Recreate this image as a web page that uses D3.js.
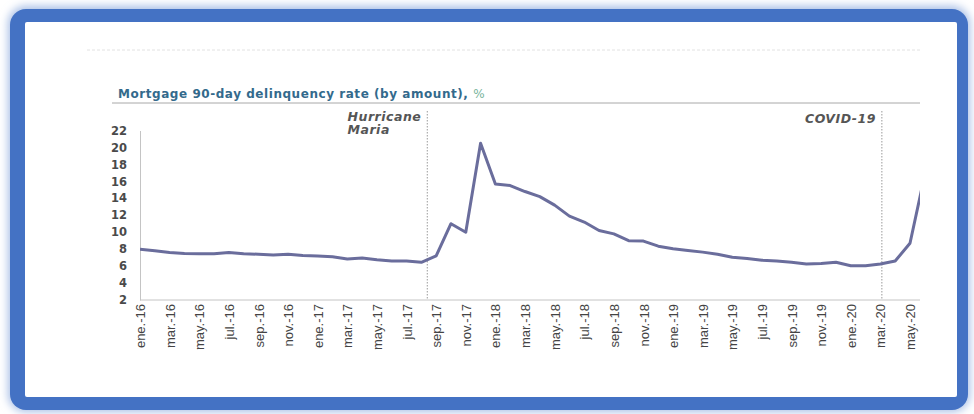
<!DOCTYPE html>
<html>
<head>
<meta charset="utf-8">
<script src="https://cdn.jsdelivr.net/npm/d3@7"></script>
<style>
  body { margin: 0; background: #fff; }
  svg { display: block; }
</style>
</head>
<body>
<svg id="chart"></svg>
<script>
// months of the series, ene.-16 .. jun.-20
const months = [
  'ene.-16','feb.-16','mar.-16','abr.-16','may.-16','jun.-16','jul.-16','ago.-16','sep.-16','oct.-16','nov.-16','dic.-16',
  'ene.-17','feb.-17','mar.-17','abr.-17','may.-17','jun.-17','jul.-17','ago.-17','sep.-17','oct.-17','nov.-17','dic.-17',
  'ene.-18','feb.-18','mar.-18','abr.-18','may.-18','jun.-18','jul.-18','ago.-18','sep.-18','oct.-18','nov.-18','dic.-18',
  'ene.-19','feb.-19','mar.-19','abr.-19','may.-19','jun.-19','jul.-19','ago.-19','sep.-19','oct.-19','nov.-19','dic.-19',
  'ene.-20','feb.-20','mar.-20','abr.-20','may.-20','jun.-20'
];

// 90-day delinquency rate, %
const delinquency = [
  8.0, 7.8, 7.6, 7.5, 7.45, 7.45, 7.6, 7.45, 7.4, 7.3, 7.4, 7.25,
  7.2, 7.1, 6.85, 6.95, 6.75, 6.6, 6.6, 6.45, 7.2, 11.0, 10.0, 20.5,
  15.7, 15.5, 14.8, 14.2, 13.2, 11.9, 11.2, 10.2, 9.8, 9.0, 8.95, 8.35,
  8.05, 7.85, 7.65, 7.4, 7.05, 6.9, 6.7, 6.6, 6.45, 6.25, 6.3, 6.45,
  6.05, 6.05, 6.25, 6.6, 8.7, 16.8
];

const xTickLabels = [
  'ene.-16','mar.-16','may.-16','jul.-16','sep.-16','nov.-16',
  'ene.-17','mar.-17','may.-17','jul.-17','sep.-17','nov.-17',
  'ene.-18','mar.-18','may.-18','jul.-18','sep.-18','nov.-18',
  'ene.-19','mar.-19','may.-19','jul.-19','sep.-19','nov.-19',
  'ene.-20','mar.-20','may.-20'
];

const yTicks = [2, 4, 6, 8, 10, 12, 14, 16, 18, 20, 22];

// event markers, position in months since ene.-16
const eventNames = [['Hurricane', 'Maria'], ['COVID-19']];
const eventAt = [19.4, 50.1];

const titleText = 'Mortgage 90-day delinquency rate (by amount), ';
const titleUnit = '%';

const W = 974, H = 414;
const plot = { left: 140, right: 920, top: 130.5, bottom: 300 };

const svg = d3.select('#chart').attr('width', W).attr('height', H);

// ---- frame (blue rounded border of the scan)
const defs = svg.append('defs');
defs.append('filter').attr('id', 'blur')
    .attr('x', '-5%').attr('y', '-10%').attr('width', '110%').attr('height', '120%')
  .append('feGaussianBlur').attr('stdDeviation', 4);

svg.append('rect')
    .attr('x', 8).attr('y', 6).attr('width', 962).attr('height', 406).attr('rx', 18)
    .attr('fill', '#a9bfe6').attr('filter', 'url(#blur)');
svg.append('rect')
    .attr('x', 10).attr('y', 9).attr('width', 958).attr('height', 401).attr('rx', 16)
    .attr('fill', '#4472c4');
svg.append('rect')
    .attr('x', 25).attr('y', 22).attr('width', 932).attr('height', 375).attr('rx', 2)
    .attr('fill', '#ffffff');

// faint rule left over at the top of the page
svg.append('line')
    .attr('x1', 87).attr('x2', plot.right).attr('y1', 50).attr('y2', 50)
    .attr('stroke', '#e2e2e2').attr('stroke-dasharray', '3,2');

// ---- title
const title = svg.append('text')
    .attr('x', 118).attr('y', 98)
    .attr('font-family', 'DejaVu Sans, sans-serif')
    .attr('font-weight', 'bold')
    .attr('font-size', 12)
    .attr('letter-spacing', 0.55)
    .attr('fill', '#336a8c');
title.append('tspan').text(titleText);
title.append('tspan').text(titleUnit).attr('fill', '#78b39b').attr('font-weight', 'normal');

svg.append('line')
    .attr('x1', 112).attr('x2', plot.right).attr('y1', 103).attr('y2', 103)
    .attr('stroke', '#a8a8a8').attr('stroke-width', 1);

// ---- scales
const x = d3.scaleLinear()
    .domain([0, 52])
    .range([plot.left, 910]);

const y = d3.scaleLinear()
    .domain([2, 22])
    .range([plot.bottom, plot.top]);

// ---- axes
const yAxis = d3.axisLeft(y).tickValues(yTicks).tickSize(0).tickPadding(13);
const yAxisGroup = svg.append('g')
    .attr('class', 'axis y-axis')
    .attr('transform', `translate(${plot.left},0)`)
    .call(yAxis);
yAxisGroup.select('.domain').attr('stroke', '#c4c4c4');
yAxisGroup.selectAll('text')
    .attr('font-family', 'DejaVu Sans, sans-serif')
    .attr('font-weight', 'bold')
    .attr('font-size', 11.5)
    .attr('fill', '#4a4a4a');

const xAxis = d3.axisBottom(x)
    .tickValues(xTickLabels.map(l => months.indexOf(l)))
    .tickFormat(i => months[i])
    .tickSize(0);
const xAxisGroup = svg.append('g')
    .attr('class', 'axis x-axis')
    .attr('transform', `translate(0,${plot.bottom})`)
    .call(xAxis);
xAxisGroup.select('.domain').remove();
xAxisGroup.selectAll('text')
    .attr('transform', 'rotate(-90)')
    .attr('x', -4).attr('y', 0).attr('dy', '0.35em')
    .attr('text-anchor', 'end')
    .attr('font-family', 'Liberation Sans, Arial, sans-serif')
    .attr('font-size', 13)
    .attr('fill', '#444');

svg.append('line')
    .attr('x1', plot.left).attr('x2', plot.right)
    .attr('y1', plot.bottom).attr('y2', plot.bottom)
    .attr('stroke', '#c4c4c4');

// ---- event markers
eventAt.forEach((at, k) => {
  const ex = x(at);
  svg.append('line')
      .attr('x1', ex).attr('x2', ex)
      .attr('y1', 111).attr('y2', plot.bottom)
      .attr('stroke', '#9a9a9a').attr('stroke-width', 1)
      .attr('stroke-dasharray', '1.5,1.5');

  const lines = eventNames[k];
  const label = svg.append('text')
      .attr('font-family', 'DejaVu Sans, sans-serif')
      .attr('font-style', 'italic')
      .attr('font-weight', 'bold')
      .attr('font-size', 12.5)
      .attr('letter-spacing', 0.5)
      .attr('fill', '#555');
  // first line is right-aligned against the marker, others share its left edge
  const first = label.append('tspan').text(lines[0]);
  const w = first.node().getComputedTextLength();
  lines.forEach((t, j) => {
    const ts = j === 0 ? first : label.append('tspan').text(t);
    ts.attr('x', ex - 6 - w).attr('y', (lines.length > 1 ? 120.5 : 123) + j * 13.5);
  });
});

// ---- series line
defs.append('clipPath').attr('id', 'plot-clip')
  .append('rect')
    .attr('x', plot.left).attr('y', 0)
    .attr('width', plot.right - plot.left).attr('height', H);

const line = d3.line()
    .x((d, i) => x(i))
    .y(d => y(d));

svg.append('path')
    .datum(delinquency)
    .attr('clip-path', 'url(#plot-clip)')
    .attr('fill', 'none')
    .attr('stroke', '#6a6d9c')
    .attr('stroke-width', 3)
    .attr('stroke-linejoin', 'round')
    .attr('d', line);
</script>
</body>
</html>
